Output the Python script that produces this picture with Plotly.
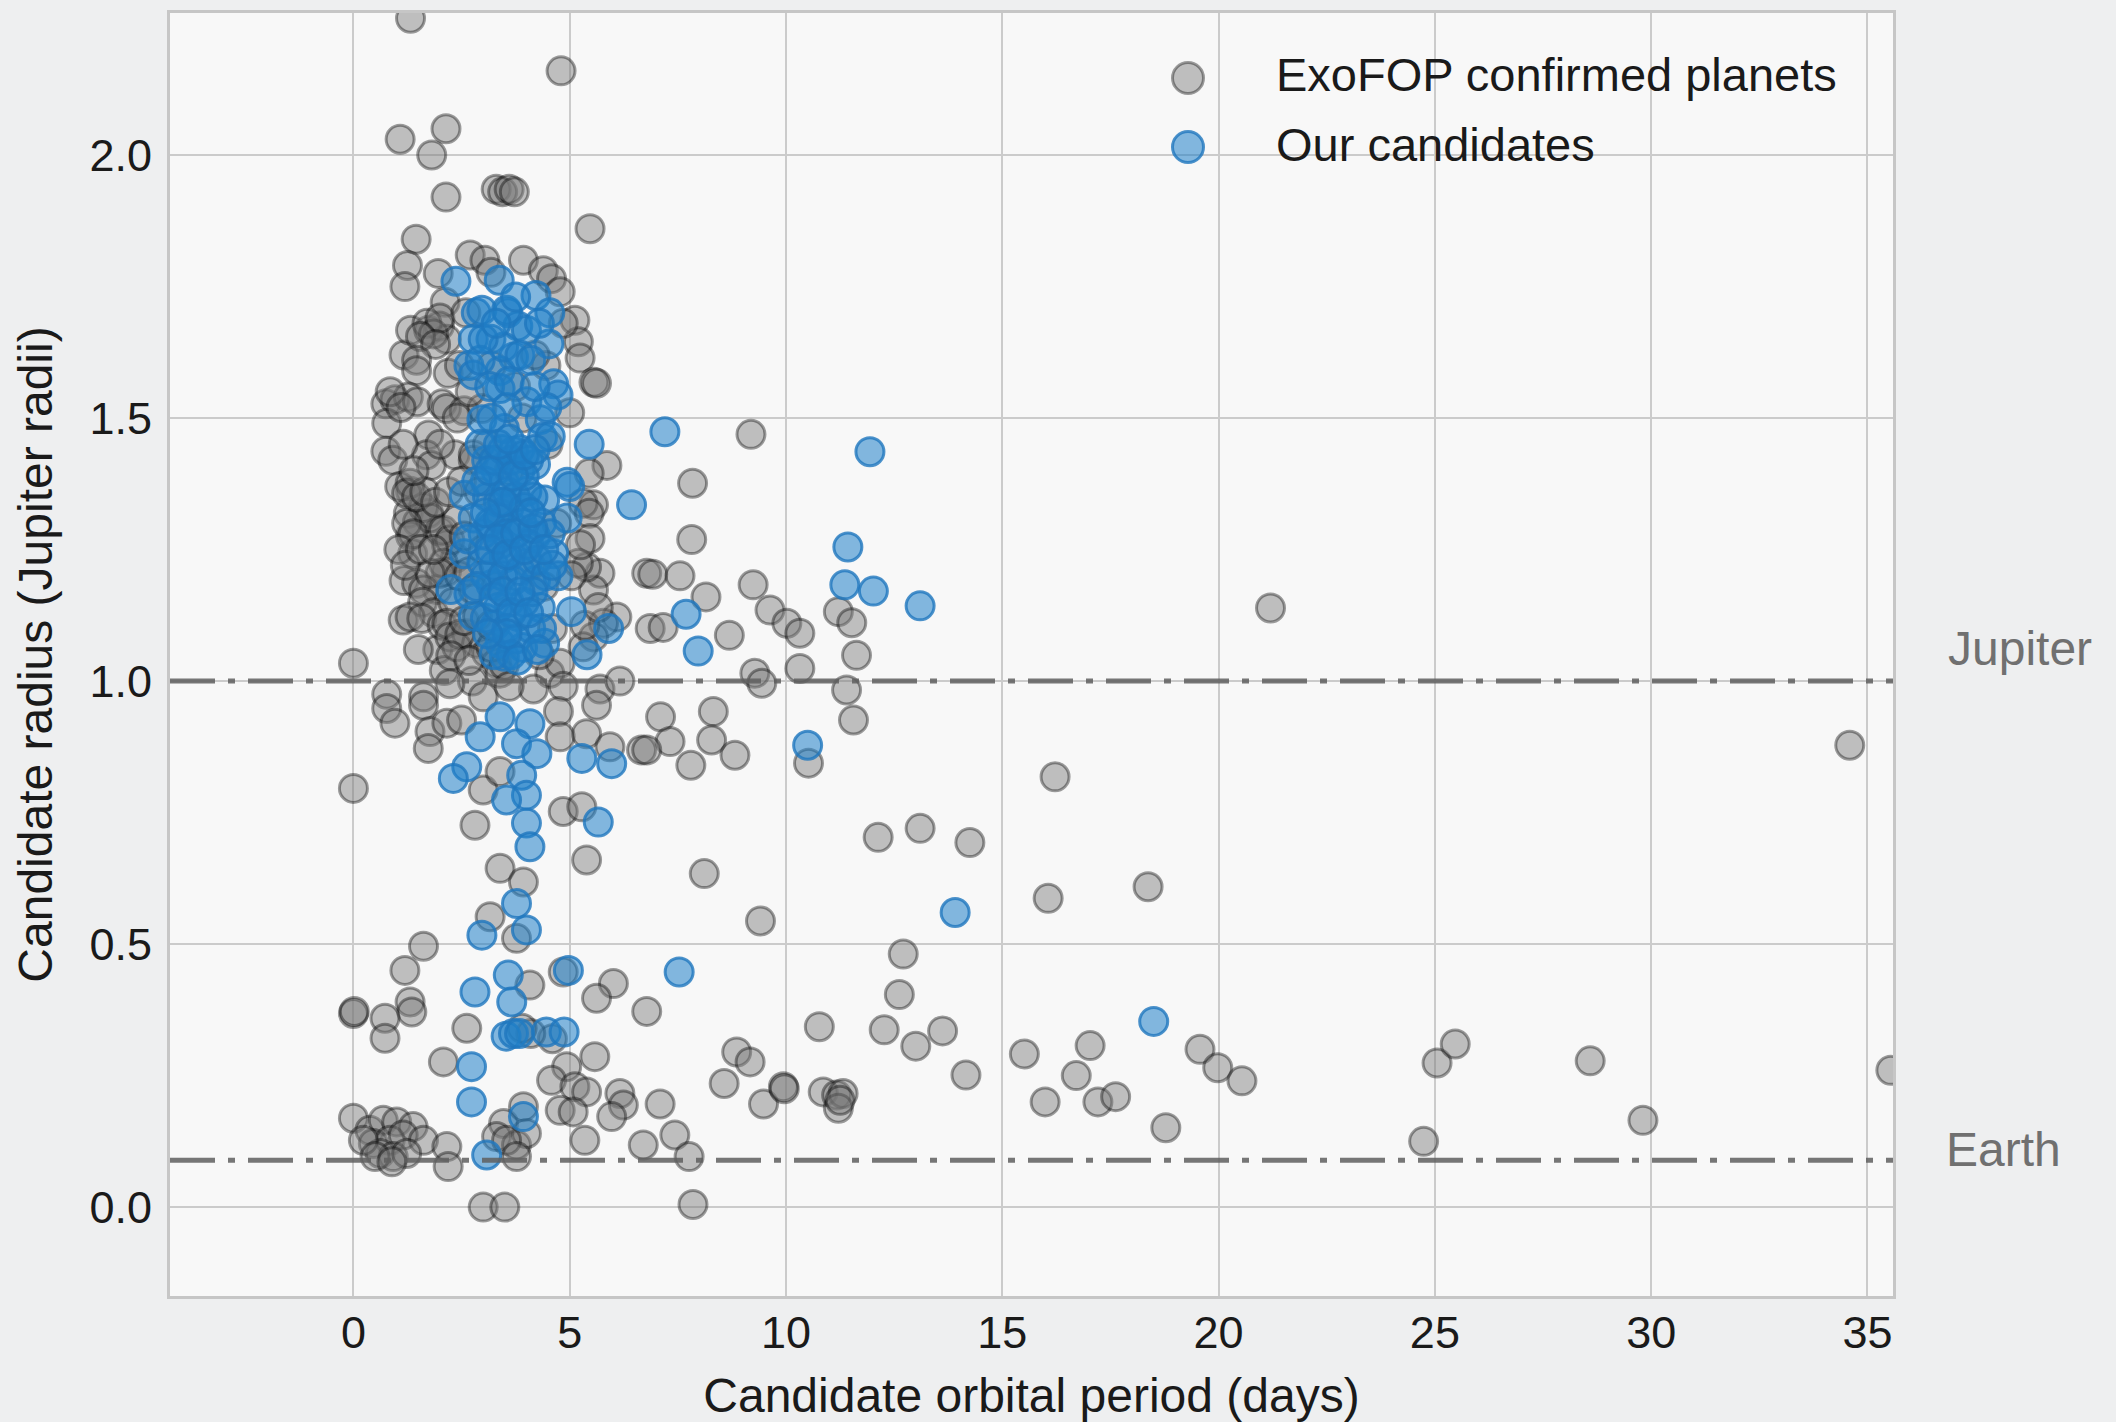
import plotly.graph_objects as go

# ---------------- data ----------------
JUPITER_R = 1.0
EARTH_R = 0.0892

x_ticks = [0, 5, 10, 15, 20, 25, 30, 35]
y_ticks = [0.0, 0.5, 1.0, 1.5, 2.0]

# ExoFOP confirmed planets: orbital period (days)
exofop_period = [
    # top
    1.32, 4.80, 1.08, 2.14, 1.81, 2.14, 3.30, 3.45, 3.60, 3.72, 5.47, 1.45, 1.25, 1.19, 2.70, 3.04, 3.18, 3.93, 4.39, 4.58, 1.96, 4.78,
    # 1.55-1.75
    2.12, 1.17, 1.32, 1.74, 1.99, 2.15, 1.70, 1.85, 2.00, 1.55, 1.90, 5.12, 5.20, 5.24, 1.46, 5.56, 1.46, 2.19, 5.62, 2.45, 2.60, 4.85, 4.45,
    # 1.4-1.55
    0.75, 0.96, 1.27, 1.48, 2.05, 2.15, 2.56, 2.97, 0.77, 5.00, 0.75, 0.91, 1.74, 1.69, 2.35, 2.77, 1.80, 5.86, 5.45, 0.85, 1.10,
    # 1.15-1.4
    5.55, 5.31, 5.45, 1.32, 1.07, 1.27, 1.48, 1.74, 1.99, 2.15, 2.36, 2.15, 1.94, 1.32, 1.37, 1.17, 1.62, 1.77, 1.23, 1.38,
    2.08, 2.23, 2.39, 2.08, 2.00, 1.46, 1.62, 1.77, 5.47, 5.70, 5.55, 5.39, 5.20, 5.25, 5.04, 1.31, 1.23, 1.46,
    # dark left cluster (overlapping)
    1.05, 1.20, 1.55, 1.85, 1.65, 1.90, 2.20, 1.40, 1.15, 2.00, 2.40, 1.60, 1.85, 2.30, 2.45, 1.95, 2.10, 2.75, 1.50, 2.50,
    # 1.0-1.15
    1.15, 1.31, 1.58, 2.05, 2.16, 2.23, 2.62, 2.85, 3.08, 2.39, 2.46, 2.56, 6.09, 5.78, 5.55, 5.31, 5.35, 5.66, 6.78, 6.86,
    0.00, 3.31, 3.39, 4.54, 4.78, 2.25, 2.67, 3.18, 3.49,
    # central (mostly hidden)
    2.77, 2.56, 2.67, 2.77, 2.87, 3.18, 3.39, 2.90, 3.00, 4.30, 4.60, 4.70, 4.50, 3.90, 3.10, 3.60, 4.10, 3.30, 4.40, 2.70, 3.20, 4.20, 3.75,
    # 0.95-1.0
    0.77, 1.62, 2.23, 4.16, 4.85, 5.70, 6.16, 3.00, 3.60,
    # 6-22 days, upper
    9.19, 7.84, 7.82, 6.92, 7.55, 8.15, 7.16, 8.69, 9.24, 9.63, 10.02, 10.32, 11.21, 11.52, 11.63, 10.32, 9.28, 9.44, 11.40, 11.56, 21.20,
    # 0.35-0.95, short periods
    0.77, 0.96, 1.62, 1.77, 1.73, 2.16, 2.50, 4.74, 4.78, 5.39, 5.62, 5.93, 6.66, 0.00, 3.00, 3.39, 2.81, 4.85, 5.28, 5.39,
    3.39, 3.93, 3.16, 3.77, 1.62, 1.19, 4.08, 4.85, 6.01, 5.62, 0.00, 0.02, 1.31, 1.35, 0.73, 2.62, 6.78,
    # 0.6-0.95, longer periods
    7.10, 8.32, 7.32, 6.78, 8.28, 8.82, 7.80, 10.52, 16.22,
    # lower, longer periods
    12.13, 13.10, 14.25, 8.11, 9.41, 16.06, 18.37, 12.71, 12.62, 10.77, 12.27, 13.00, 13.62, 14.16, 15.51, 15.99, 8.86, 9.17,
    8.57, 7.09, 9.48, 9.94, 9.96, 10.86, 11.17, 11.32, 11.21, 11.25, 7.43, 7.76, 7.85, 17.03, 16.71, 17.21, 17.62, 18.78,
    19.57, 19.98, 20.54, 25.05, 25.47, 24.74, 34.59, 28.59, 29.81, 35.54,
    # lower, short periods
    0.73, 2.08, 5.58, 4.93, 4.58, 5.12, 5.39, 4.78, 5.08, 5.35, 6.16, 6.24, 5.97, 6.70, 0.00, 0.38, 0.69, 1.00, 1.38, 0.46,
    0.85, 1.15, 1.62, 2.16, 0.62, 0.92, 1.23, 0.23, 0.50, 0.89, 2.19, 3.47, 3.93, 3.31, 3.77, 4.00, 3.54, 3.77, 3.00, 3.50,
    4.60, 4.10, 3.90,
]
# ExoFOP confirmed planets: radius (Jupiter radii)
exofop_radius = [
    2.26, 2.16, 2.03, 2.05, 2.00, 1.92, 1.935, 1.93, 1.935, 1.93, 1.86, 1.84, 1.79, 1.75, 1.81, 1.80, 1.777, 1.80, 1.78, 1.765, 1.775, 1.74,
    1.72, 1.62, 1.667, 1.667, 1.675, 1.65, 1.68, 1.66, 1.69, 1.655, 1.64, 1.686, 1.645, 1.614, 1.61, 1.568, 1.59, 1.585, 1.566, 1.60, 1.70, 1.68, 1.60,
    1.527, 1.535, 1.54, 1.531, 1.527, 1.518, 1.514, 1.518, 1.49, 1.51, 1.437, 1.42, 1.468, 1.43, 1.43, 1.42, 1.41, 1.41, 1.395, 1.55, 1.52,
    1.335, 1.338, 1.319, 1.361, 1.37, 1.319, 1.302, 1.319, 1.285, 1.259, 1.234, 1.208, 1.174, 1.276, 1.242, 1.191, 1.33, 1.31, 1.30, 1.28,
    1.287, 1.268, 1.306, 1.224, 1.205, 1.186, 1.173, 1.205, 1.271, 1.205, 1.173, 1.217, 1.224, 1.259, 1.20, 1.376, 1.357, 1.35,
    1.25, 1.22, 1.25, 1.25, 1.36, 1.34, 1.36, 1.40, 1.45, 1.45, 1.50, 1.15, 1.13, 1.15, 1.20, 1.06, 1.02, 1.00, 1.06, 1.38,
    1.116, 1.122, 1.119, 1.106, 1.11, 1.084, 1.09, 1.072, 1.053, 1.065, 1.089, 1.115, 1.122, 1.11, 1.084, 1.065, 1.106, 1.14, 1.205, 1.10,
    1.034, 1.034, 1.015, 1.015, 1.034, 1.048, 1.039, 1.064, 1.03,
    1.43, 1.276, 1.208, 1.174, 1.123, 1.106, 1.319, 1.36, 1.25, 1.05, 1.10, 1.30, 1.45, 1.50, 1.45, 1.40, 1.22, 1.18, 1.18, 1.55, 1.60, 1.62, 1.56,
    0.975, 0.97, 0.995, 0.985, 0.99, 0.985, 1.00, 0.97, 0.99,
    1.469, 1.376, 1.269, 1.203, 1.20, 1.16, 1.102, 1.087, 1.183, 1.135, 1.11, 1.091, 1.132, 1.111, 1.049, 1.024, 1.015, 0.996, 0.983, 0.926, 1.139,
    0.948, 0.92, 0.954, 0.904, 0.872, 0.92, 0.926, 0.942, 0.894, 0.90, 0.954, 0.875, 0.869, 0.796, 0.793, 0.828, 0.726, 0.752, 0.761, 0.66,
    0.644, 0.618, 0.552, 0.511, 0.496, 0.45, 0.422, 0.447, 0.425, 0.397, 0.368, 0.372, 0.39, 0.371, 0.359, 0.34, 0.372,
    0.932, 0.942, 0.885, 0.869, 0.888, 0.859, 0.84, 0.844, 0.818,
    0.703, 0.72, 0.693, 0.634, 0.544, 0.587, 0.609, 0.481, 0.404, 0.343, 0.337, 0.306, 0.335, 0.251, 0.291, 0.20, 0.295, 0.276,
    0.235, 0.196, 0.196, 0.229, 0.225, 0.219, 0.213, 0.216, 0.188, 0.203, 0.137, 0.096, 0.005, 0.307, 0.25, 0.20, 0.21, 0.151,
    0.30, 0.265, 0.24, 0.274, 0.31, 0.125, 0.878, 0.278, 0.165, 0.26,
    0.321, 0.276, 0.286, 0.267, 0.241, 0.229, 0.219, 0.184, 0.181, 0.127, 0.216, 0.194, 0.172, 0.118, 0.169, 0.146, 0.165, 0.162, 0.153, 0.121,
    0.127, 0.137, 0.127, 0.115, 0.102, 0.096, 0.102, 0.127, 0.096, 0.086, 0.077, 0.159, 0.191, 0.134, 0.118, 0.14, 0.127, 0.096, 0.00, 0.00,
    0.32, 0.33, 0.34,
]

# Our candidates: orbital period (days)
cand_period = [
    2.37, 3.37, 4.22, 2.84, 3.57, 3.80, 4.54, 2.77, 3.18, 4.52, 3.70, 2.67, 3.39, 4.63, 4.00, 3.47, 3.39, 4.01, 4.73, 2.77,
    2.97, 3.49, 4.32, 4.37, 5.45, 3.08, 3.70, 4.21, 3.49, 4.01, 4.42, 4.94, 4.94, 2.56, 2.77, 3.18, 3.70, 4.21, 2.56, 2.97,
    3.49, 4.01, 4.63, 2.25, 2.67, 3.18, 3.70, 4.21, 4.73, 2.77, 3.28, 3.80, 4.32, 3.39, 3.91, 4.42, 5.04, 5.90, 3.49, 5.40,
    6.43, 5.00, 3.30, 3.60, 3.90, 3.10, 3.40, 3.60, 3.00, 4.10, 3.55, 2.93, 3.20, 4.55, 2.93, 2.97, 3.54, 4.47, 3.85, 3.35,
    # dense core (overlapping)
    3.05, 3.25, 3.45, 3.65, 3.85, 4.05, 3.15, 3.35, 3.55, 3.75, 3.95, 4.15, 4.35, 3.05, 3.25, 3.45, 3.65, 3.85, 4.05, 4.25,
    4.45, 3.05, 3.35, 3.55, 3.75, 3.95, 4.15, 4.35, 3.65, 3.25, 2.85, 2.65, 2.85, 3.55, 3.95, 4.55, 4.60, 3.15, 3.60, 3.85,
    4.20, 3.00, 3.30, 4.30, 4.10, 3.75,
    3.15, 3.35, 3.55, 3.75, 3.95, 4.15, 3.25, 3.45, 3.65, 3.85, 4.05, 3.15, 3.45, 3.70, 3.95, 4.20, 3.35, 3.55, 3.80, 4.25,
    3.10, 4.40, 3.05, 4.10, 3.60,
    # longer periods, upper
    7.20, 11.94, 11.43, 11.36, 12.02, 13.10, 7.69, 7.97,
    # 0.65-0.95
    3.39, 4.08, 2.93, 3.77, 4.24, 2.62, 2.31, 3.89, 4.00, 3.54, 4.00, 4.08, 5.28, 5.97, 5.66, 10.50,
    # lower
    3.77, 4.00, 2.97, 3.58, 2.81, 3.66, 4.97, 3.53, 3.70, 3.84, 4.46, 4.87, 2.73, 2.73, 3.93, 3.08, 7.53, 13.91, 18.50,
]
# Our candidates: radius (Jupiter radii)
cand_radius = [
    1.76, 1.762, 1.733, 1.70, 1.70, 1.675, 1.70, 1.65, 1.65, 1.641, 1.616, 1.60, 1.59, 1.565, 1.667, 1.635, 1.556, 1.531, 1.544, 1.582,
    1.497, 1.48, 1.497, 1.463, 1.45, 1.42, 1.437, 1.412, 1.378, 1.361, 1.344, 1.378, 1.31, 1.353, 1.31, 1.293, 1.293, 1.276, 1.242, 1.225,
    1.234, 1.225, 1.242, 1.174, 1.166, 1.183, 1.191, 1.191, 1.20, 1.123, 1.106, 1.123, 1.14, 1.072, 1.064, 1.072, 1.132, 1.10, 1.047, 1.05,
    1.335, 1.37, 1.40, 1.33, 1.30, 1.35, 1.26, 1.15, 1.28, 1.10, 1.52, 1.45, 1.50, 1.465, 1.61, 1.705, 1.705, 1.52, 1.40, 1.34,
    1.38, 1.42, 1.44, 1.42, 1.44, 1.42, 1.30, 1.31, 1.36, 1.35, 1.33, 1.35, 1.30, 1.20, 1.22, 1.20, 1.24, 1.21, 1.26, 1.23,
    1.20, 1.12, 1.14, 1.10, 1.08, 1.15, 1.17, 1.10, 1.05, 1.05, 1.18, 1.27, 1.38, 1.28, 1.39, 1.28, 1.22, 1.56, 1.57, 1.62,
    1.56, 1.65, 1.68, 1.68, 1.61, 1.73,
    1.25, 1.27, 1.24, 1.28, 1.25, 1.29, 1.16, 1.17, 1.13, 1.17, 1.13, 1.40, 1.34, 1.39, 1.43, 1.44, 1.45, 1.09, 1.04, 1.06,
    1.09, 1.25, 1.32, 1.32, 1.46,
    1.474, 1.436, 1.255, 1.183, 1.171, 1.143, 1.127, 1.057,
    0.932, 0.919, 0.894, 0.881, 0.862, 0.837, 0.815, 0.821, 0.783, 0.774, 0.730, 0.685, 0.853, 0.843, 0.732, 0.878,
    0.577, 0.527, 0.517, 0.441, 0.409, 0.39, 0.45, 0.325, 0.33, 0.33, 0.333, 0.333, 0.267, 0.20, 0.172, 0.099, 0.447, 0.56, 0.353,
]

legend_names = ["ExoFOP confirmed planets", "Our candidates"]
x_title = "Candidate orbital period (days)"
y_title = "Candidate radius (Jupiter radii)"

# ---------------- styling ----------------
FONT = "Liberation Sans"
GRAY_FILL = "rgba(120,120,120,0.45)"
GRAY_EDGE = "rgba(0,0,0,0.38)"
BLUE_FILL = "rgba(31,128,200,0.55)"
BLUE_EDGE = "rgba(31,119,190,0.80)"
MSIZE = 28
MLINE = 3

fig = go.Figure()
fig.add_trace(go.Scatter(
    x=exofop_period, y=exofop_radius, mode="markers", name=legend_names[0],
    marker=dict(size=MSIZE, color=GRAY_FILL, line=dict(color=GRAY_EDGE, width=MLINE)),
    showlegend=False, cliponaxis=True,
))
fig.add_trace(go.Scatter(
    x=cand_period, y=cand_radius, mode="markers", name=legend_names[1],
    marker=dict(size=MSIZE, color=BLUE_FILL, line=dict(color=BLUE_EDGE, width=MLINE)),
    showlegend=False, cliponaxis=True,
))

# plot area in pixels
L, R, T, B = 170, 223, 13, 126
W, H = 2116, 1422
pw, ph = W - L - R, H - T - B

def px2paper_x(px):
    return (px - L) / pw

def px2paper_y(py):
    return (H - B - py) / ph

shapes = []
# reference lines (Jupiter / Earth radius)
for yv in (JUPITER_R, EARTH_R):
    shapes.append(dict(type="line", xref="paper", yref="y", x0=0, x1=1, y0=yv, y1=yv,
                       line=dict(color="rgba(95,95,95,0.85)", width=5, dash="45px,13px,7px,13px"),
                       layer="above"))

# custom legend with full-size symbols
leg_cx = 1188
leg_cy = [78, 147]
leg_r = 15.5
leg_fill = [GRAY_FILL, BLUE_FILL]
leg_edge = [GRAY_EDGE, BLUE_EDGE]
annotations = []
for i in range(2):
    shapes.append(dict(type="circle", xref="paper", yref="paper",
                       x0=px2paper_x(leg_cx - leg_r), x1=px2paper_x(leg_cx + leg_r),
                       y0=px2paper_y(leg_cy[i] + leg_r), y1=px2paper_y(leg_cy[i] - leg_r),
                       fillcolor=leg_fill[i], line=dict(color=leg_edge[i], width=MLINE), layer="above"))
    annotations.append(dict(xref="paper", yref="paper", x=px2paper_x(1274), y=px2paper_y(leg_cy[i] - 3),
                            text=legend_names[i], showarrow=False, xanchor="left", yanchor="middle",
                            font=dict(family=FONT, size=47, color="#1a1a1a")))

# side labels
annotations.append(dict(xref="paper", yref="y", x=px2paper_x(1946), y=JUPITER_R, yshift=33,
                        text="Jupiter", showarrow=False, xanchor="left", yanchor="middle",
                        font=dict(family=FONT, size=48, color="#707070")))
annotations.append(dict(xref="paper", yref="y", x=px2paper_x(1944), y=EARTH_R, yshift=11,
                        text="Earth", showarrow=False, xanchor="left", yanchor="middle",
                        font=dict(family=FONT, size=48, color="#707070")))

axis_common = dict(
    showgrid=True, gridcolor="#cbcbcb", gridwidth=2,
    showline=True, linecolor="#c6c6c6", linewidth=3, mirror=True,
    zeroline=False, ticks="", automargin=False,
    tickfont=dict(family=FONT, size=45, color="#1a1a1a"),
)

fig.update_layout(
    width=W, height=H, autosize=False,
    margin=dict(l=L, r=R, t=T, b=B, pad=0),
    paper_bgcolor="#eeeff0",
    plot_bgcolor="#f8f8f8",
    showlegend=False,
    shapes=shapes,
    annotations=annotations,
    xaxis=dict(range=[-4.24, 35.59], tickmode="array", tickvals=x_ticks,
               ticktext=[str(v) for v in x_ticks], ticklabelstandoff=-5,
               title=dict(text=x_title, font=dict(family=FONT, size=48, color="#1a1a1a"), standoff=25),
               **axis_common),
    yaxis=dict(range=[-0.169, 2.27], tickmode="array", tickvals=y_ticks,
               ticktext=[f"{v:.1f}" for v in y_ticks], ticklabelstandoff=6,
               title=dict(text=y_title, font=dict(family=FONT, size=48, color="#1a1a1a"), standoff=22),
               **axis_common),
)

fig.write_html("out.html")
